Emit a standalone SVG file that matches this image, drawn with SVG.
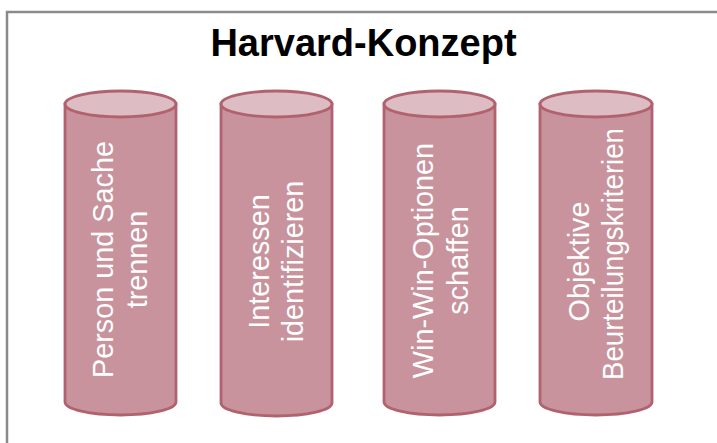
<svg xmlns="http://www.w3.org/2000/svg" width="717" height="443" viewBox="0 0 717 443">
  <style>
    .frame { fill: #ffffff; stroke: #8a8a8a; stroke-width: 2.5; }
    .title { font-family: "Liberation Sans", Arial, sans-serif; font-weight: bold; font-size: 38px; fill: #000000; }
    .body { fill: #c8939d; stroke: #b0636f; stroke-width: 2.8; }
    .top { fill: #ddbcc3; stroke: #b0636f; stroke-width: 2.8; }
    .label { font-family: "Liberation Sans", Arial, sans-serif; font-size: 28.8px; fill: #ffffff; text-anchor: middle; }
  </style>

  <rect class="frame" x="7" y="12" width="730" height="460"/>
  <text class="title" x="363.5" y="56" text-anchor="middle">Harvard-Konzept</text>

  <g id="pillar-person">
    <path class="body" d="M65,104 L65,402 A55.5,13 0 0 0 176,402 L176,104 Z"/>
    <ellipse class="top" cx="120.5" cy="104" rx="55.5" ry="13"/>
    <text class="label" transform="translate(113,259.5) rotate(-90)">Person und Sache</text>
    <text class="label" transform="translate(147,259.5) rotate(-90)">trennen</text>
  </g>

  <g id="pillar-interessen">
    <path class="body" d="M221,104 L221,403 A55.5,13 0 0 0 332,403 L332,104 Z"/>
    <ellipse class="top" cx="276.5" cy="104" rx="55.5" ry="13"/>
    <text class="label" transform="translate(268.5,261.5) rotate(-90)">Interessen</text>
    <text class="label" transform="translate(303,261.5) rotate(-90)">identifizieren</text>
  </g>

  <g id="pillar-optionen">
    <path class="body" d="M384,104 L384,402 A55.5,13 0 0 0 495,402 L495,104 Z"/>
    <ellipse class="top" cx="439.5" cy="104" rx="55.5" ry="13"/>
    <text class="label" transform="translate(433,260.5) rotate(-90)">Win-Win-Optionen</text>
    <text class="label" transform="translate(467.5,260.5) rotate(-90)">schaffen</text>
  </g>

  <g id="pillar-kriterien">
    <path class="body" d="M540,104 L540,402 A56,13 0 0 0 652,402 L652,104 Z"/>
    <ellipse class="top" cx="596" cy="104" rx="56" ry="13"/>
    <text class="label" transform="translate(588.5,261.5) rotate(-90)">Objektive</text>
    <text class="label" transform="translate(622.5,254) rotate(-90)" textLength="252" lengthAdjust="spacingAndGlyphs">Beurteilungskriterien</text>
  </g>
</svg>
